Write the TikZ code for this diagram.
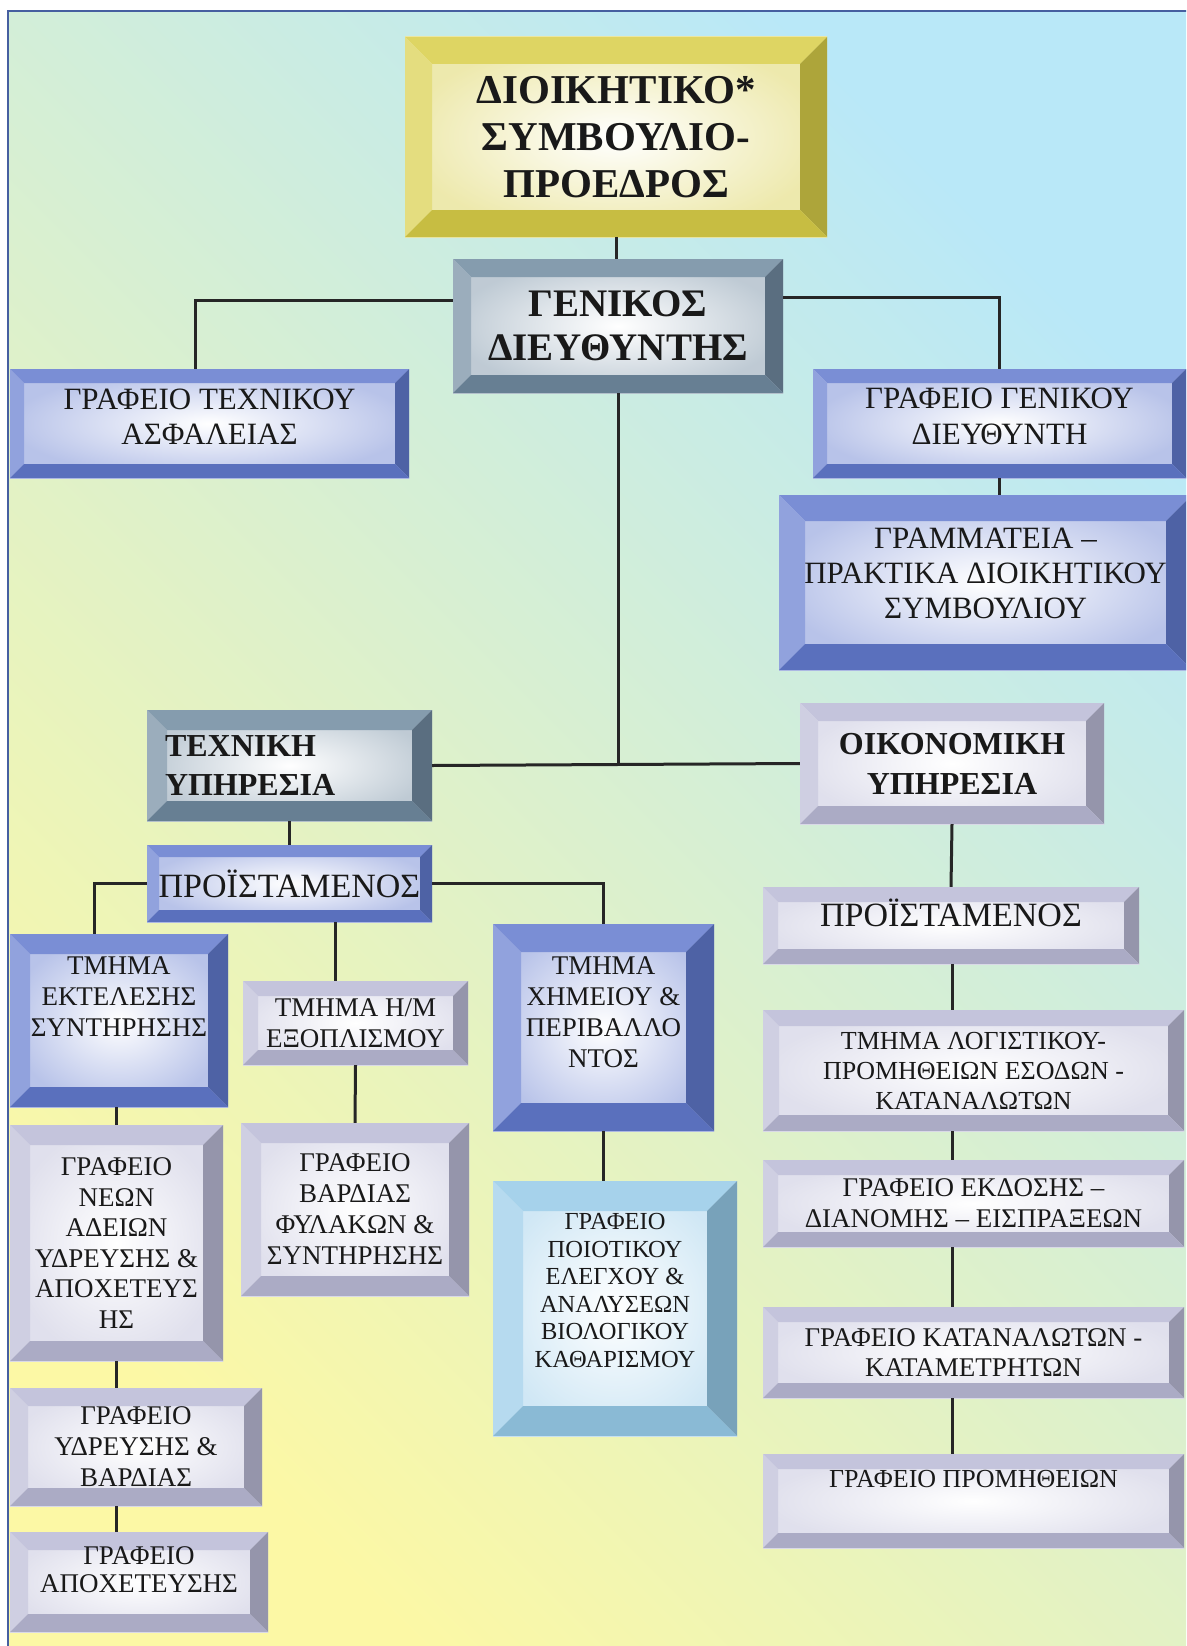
\documentclass[tikz,border=0pt]{standalone}
\usepackage{fontspec}
\setmainfont{Liberation Serif}

\definecolor{bgyellow}{RGB}{252,248,165}
\definecolor{bgmint}{RGB}{222,246,232}
\definecolor{bgcyan}{RGB}{185,232,248}
\definecolor{framecol}{RGB}{70,95,160}
\definecolor{ofyellow}{RGB}{216,206,72}
\definecolor{ofsteel}{RGB}{112,138,160}
\definecolor{ofblue}{RGB}{98,122,206}
\definecolor{oflav}{RGB}{186,186,214}
\definecolor{ofcyan}{RGB}{150,202,232}

\begin{document}
\begin{tikzpicture}[x=1pt, y=-1pt,
    office/.style 2 args={rectangle, inner sep=4pt, align=center, text=black!90,
      inner color=white, outer color=#2!45!white,
      path picture={
        \coordinate (nw) at (path picture bounding box.north west);
        \coordinate (ne) at (path picture bounding box.north east);
        \coordinate (sw) at (path picture bounding box.south west);
        \coordinate (se) at (path picture bounding box.south east);
        \fill[#2!85!white] (nw) -- (ne) -- ([shift={(-#1pt,-#1pt)}]ne) -- ([shift={(#1pt,-#1pt)}]nw) -- cycle;
        \fill[#2!70!white] (nw) -- (sw) -- ([shift={(#1pt,#1pt)}]sw) -- ([shift={(#1pt,-#1pt)}]nw) -- cycle;
        \fill[#2!80!black] (ne) -- (se) -- ([shift={(-#1pt,#1pt)}]se) -- ([shift={(-#1pt,-#1pt)}]ne) -- cycle;
        \fill[#2!92!black] (sw) -- (se) -- ([shift={(-#1pt,#1pt)}]se) -- ([shift={(#1pt,#1pt)}]sw) -- cycle;
      }},
    sz/.style 2 args={minimum width=#1pt, minimum height=#2pt},
    txt/.style={font=\fontsize{27}{31}\selectfont},
    head/.style={font=\fontsize{32}{39}\selectfont\bfseries},
    conn/.style={line width=3pt, black!85},
  ]
  \useasboundingbox (0,0) rectangle (1186,1646);
  \clip (0,0) rectangle (1186,1646);
  \shade[bottom color=bgyellow, middle color=bgmint, top color=bgcyan, shading angle=-45]
    (8,11) rectangle (1200,1660);
  \draw[framecol, line width=2.5pt] (8,1660) -- (8,11) -- (1200,11);

  % board and general manager
  \node[office={27}{ofyellow}, sz={422}{200}, font=\fontsize{41}{47}\selectfont\bfseries]
    (board) at (616,137) {ΔΙΟΙΚΗΤΙΚΟ*\\ΣΥΜΒΟΥΛΙΟ-\\ΠΡΟΕΔΡΟΣ};
  \node[office={18}{ofsteel}, sz={330}{134}, font=\fontsize{39}{44}\selectfont\bfseries]
    (gd) at (618,326) {ΓΕΝΙΚΟΣ\\ΔΙΕΥΘΥΝΤΗΣ};
  \node[office={14}{ofblue}, sz={399}{109}, font=\fontsize{31}{35}\selectfont, text depth=14pt]
    (asfaleia) at (209.5,423.5) {ΓΡΑΦΕΙΟ ΤΕΧΝΙΚΟΥ\\ΑΣΦΑΛΕΙΑΣ};
  \node[office={14}{ofblue}, sz={373}{109}, font=\fontsize{31}{36}\selectfont, text depth=14pt]
    (gengraf) at (999.5,423.5) {ΓΡΑΦΕΙΟ ΓΕΝΙΚΟΥ\\ΔΙΕΥΘΥΝΤΗ};
  \node[office={26}{ofblue}, sz={413}{175}, font=\fontsize{31}{35}\selectfont, text depth=18pt]
    (gramm) at (985.5,582.5) {ΓΡΑΜΜΑΤΕΙΑ –\\ΠΡΑΚΤΙΚΑ ΔΙΟΙΚΗΤΙΚΟΥ\\ΣΥΜΒΟΥΛΙΟΥ};

  % technical service
  \node[office={20}{ofsteel}, sz={285}{111}, head, align=left, text width=249pt]
    (texniki) at (289.5,765.5) {ΤΕΧΝΙΚΗ\\ΥΠΗΡΕΣΙΑ};
  \node[office={12}{ofblue}, sz={285}{77}, font=\fontsize{34}{38}\selectfont]
    (proist) at (289.5,883.5) {ΠΡΟΪΣΤΑΜΕΝΟΣ};
  \node[office={20}{ofblue}, sz={218}{173}, txt, text depth=48pt]
    (ektel) at (119,1020.5) {ΤΜΗΜΑ\\ΕΚΤΕΛΕΣΗΣ\\ΣΥΝΤΗΡΗΣΗΣ};
  \node[office={15}{oflav}, sz={225}{84}, txt]
    (hm) at (355.5,1023) {ΤΜΗΜΑ Η/Μ\\ΕΞΟΠΛΙΣΜΟΥ};
  \node[office={28}{ofblue}, sz={221}{207}, txt, text depth=30pt]
    (ximeio) at (603.5,1027.5) {ΤΜΗΜΑ\\ΧΗΜΕΙΟΥ \&\\ΠΕΡΙΒΑΛΛΟ\\ΝΤΟΣ};
  \node[office={20}{oflav}, sz={228}{173}, txt]
    (vardia) at (355,1209.5) {ΓΡΑΦΕΙΟ\\ΒΑΡΔΙΑΣ\\ΦΥΛΑΚΩΝ \&\\ΣΥΝΤΗΡΗΣΗΣ};
  \node[office={20}{oflav}, sz={213}{236}, font=\fontsize{27}{30.5}\selectfont]
    (neon) at (116.5,1243) {ΓΡΑΦΕΙΟ\\ΝΕΩΝ\\ΑΔΕΙΩΝ\\ΥΔΡΕΥΣΗΣ \&\\ΑΠΟΧΕΤΕΥΣ\\ΗΣ};
  \node[office={18}{oflav}, sz={252}{118}, txt]
    (ydreusi) at (136,1447) {ΓΡΑΦΕΙΟ\\ΥΔΡΕΥΣΗΣ \&\\ΒΑΡΔΙΑΣ};
  \node[office={18}{oflav}, sz={258}{100}, font=\fontsize{27}{28}\selectfont, text depth=24pt]
    (apoxet) at (139,1582) {ΓΡΑΦΕΙΟ\\ΑΠΟΧΕΤΕΥΣΗΣ};
  \node[office={30}{ofcyan}, sz={244}{255}, font=\fontsize{24.5}{27.5}\selectfont, text depth=36pt]
    (poiot) at (615,1308.5) {ΓΡΑΦΕΙΟ\\ΠΟΙΟΤΙΚΟΥ\\ΕΛΕΓΧΟΥ \&\\ΑΝΑΛΥΣΕΩΝ\\ΒΙΟΛΟΓΙΚΟΥ\\ΚΑΘΑΡΙΣΜΟΥ};

  % financial service
  \node[office={18}{oflav}, sz={304}{121}, font=\fontsize{32}{40}\selectfont\bfseries]
    (oikon) at (952,763.5) {ΟΙΚΟΝΟΜΙΚΗ\\ΥΠΗΡΕΣΙΑ};
  \node[office={15}{oflav}, sz={376}{77}, font=\fontsize{34}{38}\selectfont, text depth=26pt]
    (proist2) at (951,925.5) {ΠΡΟΪΣΤΑΜΕΝΟΣ};
  \node[office={16}{oflav}, sz={421}{121}, font=\fontsize{26}{30}\selectfont]
    (logist) at (973.5,1070.5) {ΤΜΗΜΑ ΛΟΓΙΣΤΙΚΟΥ-\\ΠΡΟΜΗΘΕΙΩΝ ΕΣΟΔΩΝ -\\ΚΑΤΑΝΑΛΩΤΩΝ};
  \node[office={15}{oflav}, sz={421}{87}, txt]
    (ekdosi) at (973.5,1203.5) {ΓΡΑΦΕΙΟ ΕΚΔΟΣΗΣ –\\ΔΙΑΝΟΜΗΣ – ΕΙΣΠΡΑΞΕΩΝ};
  \node[office={15}{oflav}, sz={421}{91}, font=\fontsize{27}{30}\selectfont]
    (katanal) at (973.5,1352.5) {ΓΡΑΦΕΙΟ ΚΑΤΑΝΑΛΩΤΩΝ -\\ΚΑΤΑΜΕΤΡΗΤΩΝ};
  \node[office={15}{oflav}, sz={421}{94}, font=\fontsize{26}{30}\selectfont, text depth=44pt]
    (promith) at (973.5,1501) {ΓΡΑΦΕΙΟ ΠΡΟΜΗΘΕΙΩΝ};

  % connectors
  \draw[conn] (board.south) -- (board.south |- gd.north);
  \draw[conn] ([yshift=26pt]gd.west) -| ([xshift=-14pt]asfaleia.north);
  \draw[conn] ([yshift=29pt]gd.east) -| (gengraf.north);
  \draw[conn] (gengraf.south) -- (gengraf.south |- gramm.north);
  \draw[conn] (gd.south) -- (gd.south |- texniki.east);
  \draw[conn] (texniki.east) -- (oikon.west);
  \draw[conn] (texniki.south) -- (proist.north);
  \draw[conn] (proist.west) -| ([xshift=-25pt]ektel.north);
  \draw[conn] (proist.east) -| (ximeio.north);
  \draw[conn] ([xshift=46pt]proist.south) -- ([xshift=46pt]proist.south |- hm.north);
  \draw[conn] (hm.south) -- (vardia.north);
  \draw[conn] (neon.north |- ektel.south) -- (neon.north);
  \draw[conn] (neon.south) -- (neon.south |- ydreusi.north);
  \draw[conn] (neon.south |- ydreusi.south) -- (neon.south |- apoxet.north);
  \draw[conn] (ximeio.south) -- (ximeio.south |- poiot.north);
  \draw[conn] (oikon.south) -- (proist2.north);
  \draw[conn] (oikon.south |- proist2.south) -- (oikon.south |- logist.north);
  \draw[conn] (oikon.south |- logist.south) -- (oikon.south |- ekdosi.north);
  \draw[conn] (oikon.south |- ekdosi.south) -- (oikon.south |- katanal.north);
  \draw[conn] (oikon.south |- katanal.south) -- (oikon.south |- promith.north);
\end{tikzpicture}
\end{document}
